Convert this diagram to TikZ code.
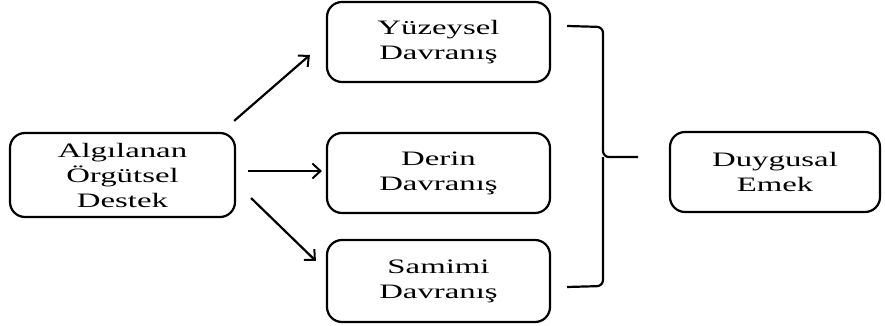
\documentclass[tikz,border=0pt]{standalone}
\usepackage{fontspec}
\usepackage{graphicx}
\setmainfont{Liberation Serif}
\newcommand\sx[1]{\scalebox{1.6}[1]{#1}}
\usetikzlibrary{arrows.meta}
\begin{document}
\begin{tikzpicture}[x=1pt,y=-1pt,
  box/.style={draw=black,line width=2.2pt,rounded corners=15pt,align=center,
    inner sep=0pt,font=\fontsize{20.5}{25}\selectfont},
  arr/.style={line width=2.2pt,-{Straight Barb[length=8pt,width=15pt,line width=2pt]}},
  brace/.style={line width=2.2pt,rounded corners=6pt}]
\useasboundingbox (0,0) rectangle (885,326);
\node[box,minimum width=225pt,minimum height=84pt] (A) at (122.5,175) {\sx{Algılanan}\\\sx{Örgütsel}\\\sx{Destek}};
\node[box,minimum width=223pt,minimum height=80pt] (Y) at (438.5,42) {\sx{Yüzeysel}\\\sx{Davranış}};
\node[box,minimum width=223pt,minimum height=80pt] (D) at (438.5,173) {\sx{Derin}\\\sx{Davranış}};
\node[box,minimum width=223pt,minimum height=82pt] (S) at (438.5,281) {\sx{Samimi}\\\sx{Davranış}};
\node[box,minimum width=210pt,minimum height=80pt] (E) at (775,172) {\sx{Duygusal}\\\sx{Emek}};
\draw[arr] ([shift={(-2,-11)}]A.north east) -- ([shift={(-16,13)}]Y.west);
\draw[arr] ([shift={(12,-4)}]A.east) -- ([shift={(-4,-2)}]D.west);
\draw[arr] ([shift={(15,-20)}]A.south east) -- ([shift={(-10,-20)}]S.west);
\coordinate (b1) at (567,26);
\coordinate (b2) at (567,287);
\coordinate (tip) at (638,157);
\draw[brace] (b1) -- (603,27) -- (603,157) -- (tip);
\draw[brace] (b2) -- (603,286) -- (603,157);
\end{tikzpicture}
\end{document}
